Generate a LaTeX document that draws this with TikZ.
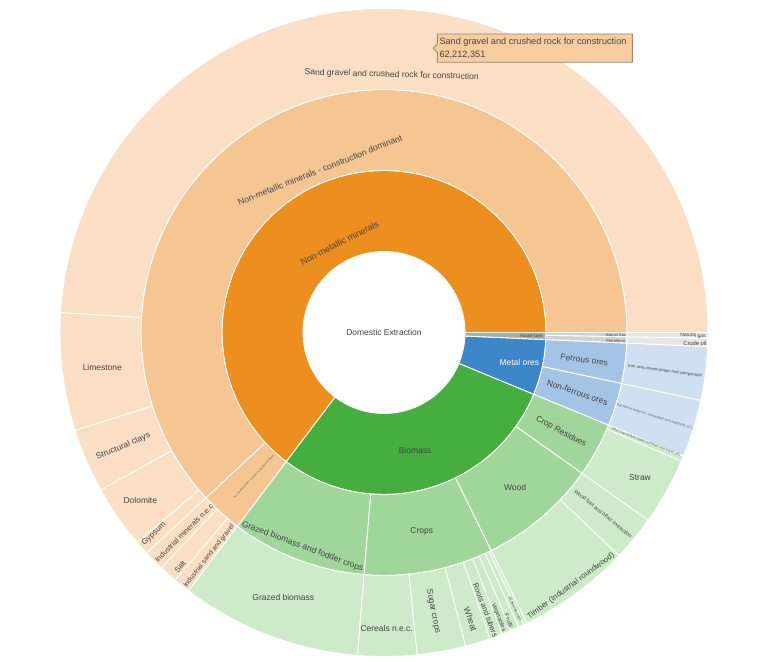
\documentclass[tikz,border=0pt]{standalone}
\usepackage{fontspec}
\setmainfont{Liberation Sans}
\definecolor{o1}{HTML}{EC8F1F}
\definecolor{o2}{HTML}{F5C692}
\definecolor{o3}{HTML}{FADFC4}
\definecolor{g1}{HTML}{46AE3E}
\definecolor{g2}{HTML}{A0D69A}
\definecolor{g3}{HTML}{CDEBC9}
\definecolor{b1}{HTML}{3D87C8}
\definecolor{b2}{HTML}{A4C4E6}
\definecolor{b3}{HTML}{CFE0F2}
\definecolor{k1}{HTML}{ABABAB}
\definecolor{k2}{HTML}{D2D2D2}
\definecolor{k3}{HTML}{E6E6E6}
\definecolor{txt}{HTML}{444444}
\definecolor{tipfill}{HTML}{F7CDA0}
\definecolor{tipline}{HTML}{9C8874}
\newcommand\sect[5]{\filldraw[fill=#5,sepline] (#3:#1bp) arc[start angle=#3,end angle=#4,radius=#1bp] -- (#4:#2bp) arc[start angle=#4,end angle=#3,radius=#2bp] -- cycle;}
\tikzset{
  sepline/.style={draw=white,line width=0.9bp},
  lbl/.style={font=\fontsize{#1}{#1}\selectfont,text=txt,inner sep=0pt},
  lbl/.default=8.5,
  wlbl/.style={font=\fontsize{8.5}{8.5}\selectfont,text=white,inner sep=0pt},
  tipbox/.style={fill=tipfill,draw=tipline,line width=0.9bp}
}
\begin{document}
\begin{tikzpicture}[x=1bp,y=1bp]
\fill[white] (0,0) rectangle (768,662);
\useasboundingbox (0,0) rectangle (768,662);
\begin{scope}[shift={(384,329.5)}]
% ring 1
\sect{81}{162}{0}{232.9}{o1}
\sect{81}{162}{232.9}{337.6}{g1}
\sect{81}{162}{337.6}{357.5}{b1}
\sect{81}{162}{357.5}{360}{k1}
% ring 2
\sect{162}{243}{0}{222.9}{o2}
\sect{162}{243}{222.9}{232.9}{o2}
\sect{162}{243}{232.9}{265.3}{g2}
\sect{162}{243}{265.3}{296.2}{g2}
\sect{162}{243}{296.2}{324.6}{g2}
\sect{162}{243}{324.6}{337.6}{g2}
\sect{162}{243}{337.6}{347.9}{b2}
\sect{162}{243}{347.9}{357.5}{b2}
\sect{162}{243}{357.5}{359}{k2}
\sect{162}{243}{359}{360}{k2}
% ring 3
\sect{243}{324}{0}{176.5}{o3}
\sect{243}{324}{176.5}{197.6}{o3}
\sect{243}{324}{197.6}{209.1}{o3}
\sect{243}{324}{209.1}{220.4}{o3}
\sect{243}{324}{220.4}{222.9}{o3}
\sect{243}{324}{222.9}{226.6}{o3}
\sect{243}{324}{226.6}{229.9}{o3}
\sect{243}{324}{229.9}{232.9}{o3}
\sect{243}{324}{232.9}{265.3}{g3}
\sect{243}{324}{265.3}{275.9}{g3}
\sect{243}{324}{275.9}{284.6}{g3}
\sect{243}{324}{284.6}{289.1}{g3}
\sect{243}{324}{289.1}{291.4}{g3}
\sect{243}{324}{291.4}{293.1}{g3}
\sect{243}{324}{293.1}{294.6}{g3}
\sect{243}{324}{294.6}{295.6}{g3}
\sect{243}{324}{295.6}{296.2}{g3}
\sect{243}{324}{296.2}{316.5}{g3}
\sect{243}{324}{316.5}{324.6}{g3}
\sect{243}{324}{324.6}{336.6}{g3}
\sect{243}{324}{336.6}{337.6}{g3}
\sect{243}{324}{337.6}{347.9}{b3}
\sect{243}{324}{347.9}{357.5}{b3}
\sect{243}{324}{357.5}{359}{k3}
\sect{243}{324}{359}{360}{k3}
\end{scope}
% centre
\node[lbl] (root) at (384,330) {Domestic Extraction};
% ring 1 labels
\node[lbl=9, rotate=27] (nmm) at (339.5,419) {Non-metallic minerals};
\node[lbl] (bio) at (415,212) {Biomass};
\node[wlbl] (met) at (519.3,299.3) {Metal ores};
\node[lbl=4.5, rotate=-1] (fos) at (531.7,326.3) {Fossil fuels};
% ring 2 labels
\node[lbl=8.7, rotate=21.7] (ncd) at (320,492) {Non-metallic minerals - construction dominant};
\node[lbl=2.3, rotate=47] (nid) at (254,185.3) {Non-metallic minerals - industrial or agricultural dominant};
\node[lbl=8.6, rotate=-20.5] (gbf) at (302.5,115.3) {Grazed biomass and fodder crops};
\node[lbl] (crp) at (421.7,131) {Crops};
\node[lbl] (wod) at (515,174.7) {Wood};
\node[lbl, rotate=-28.5] (cres) at (561,230.3) {Crop Residues};
\node[lbl, rotate=-19] (nfo) at (577.5,269.5) {Non-ferrous ores};
\node[lbl, rotate=-8] (feo) at (584.3,302) {Ferrous ores};
\node[lbl=4.2, rotate=-0.5] (pet) at (615.7,321.3) {Petroleum};
\node[lbl=3.8, rotate=-0.3] (ngs) at (615.7,327) {Natural Gas};
% ring 3 labels
\node[lbl=8.56, rotate=-1.6] (sgc) at (391.7,587) {Sand gravel and crushed rock for construction};
\node[lbl] (lim) at (102.3,294.3) {Limestone};
\node[lbl, rotate=23] (scl) at (123.2,215.5) {Structural clays};
\node[lbl] (dol) at (140.3,162) {Dolomite};
\node[lbl=8, rotate=42] (gyp) at (154,128) {Gypsum};
\node[lbl=7.5, rotate=45] (imn) at (184,129) {Industrial minerals n.e.c};
\node[lbl=7.5, rotate=49] (slt) at (180,95.3) {Salt};
\node[lbl=6.8, rotate=52] (isg) at (209,106) {Industrial sand and gravel};
\node[lbl] (gbm) at (283.3,64.7) {Grazed biomass};
\node[lbl] (cer) at (386.7,33.7) {Cereals n.e.c.};
\node[lbl=8.4, rotate=-79] (sug) at (433.3,50.7) {Sugar crops};
\node[lbl=8.5, rotate=-71] (whe) at (470.5,42.5) {Wheat};
\node[lbl=7.5, rotate=-69] (rat) at (485.5,52) {Roots and tubers};
\node[lbl=6, rotate=-68] (veg) at (498.7,44.5) {Vegetables};
\node[lbl=6, rotate=-67] (fru) at (509,41) {Fruits};
\node[lbl=3.5, rotate=-64.5] (oil) at (515,53) {Oil bearing crops};
\node[lbl=8, rotate=36.4] (tim) at (571,76) {Timber (Industrial roundwood)};
\node[lbl=5.4, rotate=-39.5] (wfu) at (603.3,148.2) {Wood fuel and other extraction};
\node[lbl] (str) at (640,184.3) {Straw};
\node[lbl=3, rotate=-21] (ocr) at (646,220) {Other crop residues (sugar and fodder beet leaves, etc)};
\node[lbl=3, rotate=-17.3] (nfc) at (655,245.3) {Non-ferrous metal ores, concentrates and compounds n.e.c.};
\node[lbl=4.3, rotate=-7.5] (iro) at (665,291) {Iron ores concentrates and compounds};
\node[lbl=5.8, rotate=-1.5] (cru) at (695,318.7) {Crude oil};
\node[lbl=5, rotate=-0.5] (ngr) at (693,326.3) {Natural gas};
% hover label
\filldraw[tipbox] (437.3,628) -- (632.3,628) -- (632.3,599.7) -- (437.3,599.7) -- (437.3,609.7) -- (433.3,613.7) -- (437.3,617.7) -- cycle;
\node[lbl=9.2, anchor=west] (tip1) at (439.3,619.6) {Sand gravel and crushed rock for construction};
\node[lbl=9.2, anchor=west] (tip2) at (439.3,607.3) {62,212,351};
\end{tikzpicture}
\end{document}
